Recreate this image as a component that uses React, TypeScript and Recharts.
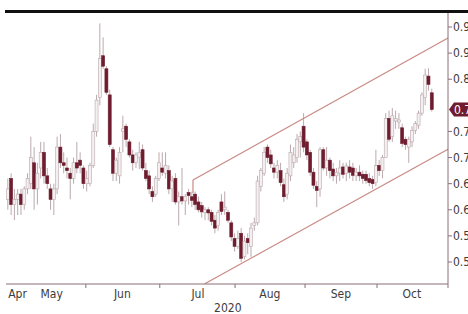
import { ComposedChart, Bar, XAxis, YAxis, ReferenceLine } from 'recharts';

// daily candles (Apr -> mid Oct 2020)
const opens = [
  0.62, 0.66, 0.61, 0.62, 0.63, 0.61, 0.64, 0.65, 0.69, 0.64,
  0.68, 0.71, 0.665, 0.64, 0.62, 0.64, 0.72, 0.69, 0.68, 0.67,
  0.66, 0.69, 0.695, 0.68, 0.65, 0.65, 0.685, 0.75, 0.815, 0.895,
  0.87, 0.82, 0.715, 0.67, 0.665, 0.75, 0.76, 0.73, 0.705, 0.69,
  0.70, 0.715, 0.675, 0.665, 0.635, 0.63, 0.66, 0.68, 0.67, 0.675,
  0.64, 0.66, 0.615, 0.625, 0.617, 0.633, 0.625, 0.63, 0.615, 0.608,
  0.595, 0.60, 0.595, 0.58, 0.57, 0.615, 0.60, 0.595, 0.575, 0.545,
  0.53, 0.555, 0.51, 0.545, 0.53, 0.57, 0.575, 0.645, 0.67, 0.72,
  0.705, 0.68, 0.672, 0.675, 0.648, 0.63, 0.665, 0.69, 0.70, 0.73,
  0.76, 0.73, 0.71, 0.672, 0.645, 0.64, 0.715, 0.68, 0.695, 0.678,
  0.665, 0.67, 0.682, 0.67, 0.682, 0.68, 0.665, 0.672, 0.668, 0.668,
  0.66, 0.658, 0.652, 0.685, 0.675, 0.70, 0.775, 0.74, 0.77, 0.768,
  0.757, 0.735, 0.72, 0.73, 0.752, 0.762, 0.785, 0.815, 0.856, 0.824,
];
const highs = [
  0.66, 0.67, 0.64, 0.64, 0.64, 0.645, 0.67, 0.74, 0.72, 0.69,
  0.73, 0.73, 0.68, 0.65, 0.65, 0.74, 0.745, 0.71, 0.70, 0.68,
  0.70, 0.73, 0.71, 0.685, 0.675, 0.69, 0.765, 0.82, 0.957, 0.93,
  0.875, 0.83, 0.72, 0.70, 0.72, 0.78, 0.765, 0.735, 0.715, 0.71,
  0.73, 0.725, 0.69, 0.675, 0.645, 0.665, 0.71, 0.71, 0.71, 0.685,
  0.665, 0.67, 0.635, 0.68, 0.63, 0.64, 0.635, 0.635, 0.625, 0.615,
  0.605, 0.605, 0.60, 0.59, 0.60, 0.63, 0.635, 0.60, 0.58, 0.555,
  0.56, 0.565, 0.55, 0.555, 0.575, 0.585, 0.665, 0.68, 0.72, 0.725,
  0.715, 0.69, 0.695, 0.69, 0.66, 0.68, 0.725, 0.72, 0.745, 0.75,
  0.785, 0.735, 0.715, 0.68, 0.655, 0.72, 0.72, 0.72, 0.70, 0.69,
  0.68, 0.695, 0.69, 0.69, 0.695, 0.69, 0.68, 0.685, 0.675, 0.675,
  0.67, 0.665, 0.715, 0.695, 0.705, 0.785, 0.79, 0.795, 0.79, 0.785,
  0.765, 0.74, 0.74, 0.76, 0.77, 0.79, 0.825, 0.87, 0.871, 0.832,
];
const lows = [
  0.60, 0.59, 0.58, 0.59, 0.59, 0.60, 0.63, 0.64, 0.60, 0.61,
  0.66, 0.65, 0.64, 0.60, 0.59, 0.63, 0.68, 0.67, 0.66, 0.62,
  0.65, 0.67, 0.67, 0.64, 0.635, 0.645, 0.68, 0.74, 0.80, 0.87,
  0.82, 0.72, 0.655, 0.655, 0.65, 0.71, 0.72, 0.70, 0.675, 0.68,
  0.678, 0.675, 0.655, 0.63, 0.615, 0.625, 0.655, 0.665, 0.66, 0.63,
  0.615, 0.61, 0.57, 0.61, 0.59, 0.61, 0.605, 0.60, 0.595, 0.585,
  0.58, 0.58, 0.57, 0.555, 0.56, 0.59, 0.59, 0.575, 0.54, 0.52,
  0.525, 0.50, 0.505, 0.515, 0.51, 0.56, 0.57, 0.635, 0.665, 0.69,
  0.68, 0.66, 0.66, 0.645, 0.615, 0.62, 0.655, 0.68, 0.69, 0.70,
  0.71, 0.695, 0.665, 0.64, 0.605, 0.625, 0.675, 0.665, 0.66, 0.655,
  0.65, 0.655, 0.66, 0.655, 0.66, 0.655, 0.655, 0.655, 0.65, 0.65,
  0.645, 0.64, 0.645, 0.665, 0.66, 0.70, 0.73, 0.73, 0.755, 0.755,
  0.72, 0.715, 0.69, 0.72, 0.745, 0.755, 0.78, 0.80, 0.828, 0.788,
];
const closes = [
  0.64, 0.61, 0.62, 0.63, 0.61, 0.64, 0.66, 0.70, 0.64, 0.67,
  0.71, 0.665, 0.65, 0.62, 0.64, 0.72, 0.69, 0.685, 0.675, 0.66,
  0.69, 0.68, 0.685, 0.65, 0.66, 0.685, 0.75, 0.81, 0.89, 0.875,
  0.825, 0.725, 0.67, 0.695, 0.71, 0.755, 0.735, 0.705, 0.69, 0.705,
  0.71, 0.68, 0.66, 0.64, 0.625, 0.66, 0.69, 0.672, 0.685, 0.64,
  0.655, 0.615, 0.625, 0.617, 0.625, 0.627, 0.618, 0.61, 0.60, 0.596,
  0.60, 0.594, 0.578, 0.565, 0.595, 0.597, 0.605, 0.58, 0.548, 0.53,
  0.545, 0.507, 0.54, 0.537, 0.565, 0.575, 0.655, 0.675, 0.71, 0.70,
  0.688, 0.672, 0.685, 0.652, 0.625, 0.67, 0.71, 0.705, 0.735, 0.74,
  0.72, 0.705, 0.672, 0.647, 0.637, 0.715, 0.68, 0.695, 0.675, 0.665,
  0.672, 0.68, 0.668, 0.684, 0.672, 0.666, 0.672, 0.665, 0.66, 0.656,
  0.652, 0.65, 0.685, 0.675, 0.70, 0.775, 0.735, 0.78, 0.775, 0.772,
  0.727, 0.725, 0.735, 0.752, 0.765, 0.785, 0.82, 0.858, 0.84, 0.792,
];

// x axis is the trading-day index
const monthLabels = ['Apr', 'May', 'Jun', 'Jul', 'Aug', 'Sep', 'Oct'];
const monthLabelAt = [2.9, 13.3, 34.8, 57.8, 79.7, 101.3, 122.9];
const monthEdges = [23.7, 46.2, 69.1, 90.4, 112.3, 133.9];
const yearLabel = '2020';
const yearLabelAt = 66.9;

const priceTicks = [0.5, 0.55, 0.6, 0.65, 0.7, 0.75, 0.85, 0.9, 0.95];

// trend channel
const upperChannel = [{ x: 56.3, y: 0.657 }, { x: 133.9, y: 0.929 }];
const upperStub = [{ x: 56.3, y: 0.657 }, { x: 56.3, y: 0.632 }];
const lowerChannel = [{ x: 59.9, y: 0.4585 }, { x: 133.9, y: 0.716 }];

const data = opens.map((o, i) => ({
  i,
  open: o,
  high: highs[i],
  low: lows[i],
  close: closes[i],
  range: [lows[i], highs[i]],
}));

const lastClose = closes[closes.length - 1];

const MAROON = '#6e1c2e';
const WICK = '#bba9ad';
const AXIS = '#8a6e74';
const FONT = "'Liberation Sans Narrow', 'DejaVu Sans Condensed', sans-serif";

function Candle(props: any) {
  const { x, y, width, height, payload } = props;
  if (!payload) return <g />;
  const { open, close, high, low } = payload;
  const top = Math.min(y, y + height);
  const h = Math.abs(height);
  const k = h / (high - low);
  const yo = top + (high - open) * k;
  const yc = top + (high - close) * k;
  const up = close >= open;
  const cx = x + width / 2;
  const bTop = Math.min(yo, yc);
  const bH = Math.max(Math.abs(yc - yo), 1.5);
  return (
    <g>
      <line x1={cx} x2={cx} y1={top} y2={top + h} stroke={WICK} strokeWidth={1} />
      <rect
        x={x}
        y={bTop}
        width={width}
        height={bH}
        fill={up ? '#f4eff0' : MAROON}
        stroke={up ? WICK : MAROON}
        strokeWidth={0.6}
      />
    </g>
  );
}

function PriceTick(props: any) {
  const { x, y, payload } = props;
  const v = payload.value;
  if (v === lastClose) {
    return (
      <g>
        <polygon
          points={`${x + 1},${y} ${x + 6},${y - 7} ${x + 24},${y - 7} ${x + 24},${y + 7} ${x + 6},${y + 7}`}
          fill={MAROON}
        />
        <text x={x + 6} y={y} dy="0.35em" fontSize={12} fill="#fff" fontFamily={FONT}>
          {v.toFixed(2)}
        </text>
      </g>
    );
  }
  return (
    <g>
      <line x1={x} x2={x + 4} y1={y} y2={y} stroke={AXIS} />
      <text x={x + 5} y={y} dy="0.35em" fontSize={12} fill="#3c3c3c" fontFamily={FONT}>
        {v.toFixed(2)}
      </text>
    </g>
  );
}

function MonthTick(props: any) {
  const { x, y, payload } = props;
  const v = payload.value;
  if (monthEdges.includes(v)) {
    return <line x1={x} x2={x} y1={y} y2={y + 4} stroke={AXIS} />;
  }
  const m = monthLabelAt.indexOf(v);
  if (m >= 0) {
    return (
      <text x={x} y={y + 10} dy="0.35em" textAnchor="middle" fontSize={12} fill="#3c3c3c" fontFamily={FONT}>
        {monthLabels[m]}
      </text>
    );
  }
  if (v === yearLabelAt) {
    return (
      <text x={x} y={y + 23.5} dy="0.35em" textAnchor="middle" fontSize={12} fill="#3c3c3c" fontFamily={FONT}>
        {yearLabel}
      </text>
    );
  }
  return <g />;
}

export default function App() {
  return (
    <div style={{ position: 'absolute', left: 0, top: 0, width: 468, height: 314, overflow: 'hidden', background: '#fff' }}>
      <div style={{ position: 'absolute', left: 5, top: 10, width: 463, height: 3, background: '#111' }} />
      <ComposedChart width={468} height={314} data={data} margin={{ top: 13, right: 0, bottom: 0, left: 6 }}>
        <XAxis
          dataKey="i"
          type="number"
          domain={[-0.6, 133.9]}
          ticks={[...monthEdges, ...monthLabelAt, yearLabelAt]}
          interval={0}
          tick={MonthTick}
          tickLine={false}
          tickSize={0}
          tickMargin={0}
          height={30}
          axisLine={{ stroke: AXIS }}
          allowDataOverflow
        />
        <YAxis
          orientation="right"
          type="number"
          domain={[0.4579, 0.9768]}
          ticks={[...priceTicks, lastClose]}
          interval={0}
          tick={PriceTick}
          tickLine={false}
          tickSize={0}
          tickMargin={0}
          width={20}
          axisLine={{ stroke: AXIS }}
          allowDataOverflow
        />
        <ReferenceLine segment={upperChannel} stroke="#c98a84" strokeWidth={1.2} ifOverflow="visible" />
        <ReferenceLine segment={upperStub} stroke="#c98a84" strokeWidth={1.2} ifOverflow="visible" />
        <ReferenceLine segment={lowerChannel} stroke="#c98a84" strokeWidth={1.2} ifOverflow="visible" />
        <Bar dataKey="range" barSize={3} shape={Candle} isAnimationActive={false} />
      </ComposedChart>
    </div>
  );
}
